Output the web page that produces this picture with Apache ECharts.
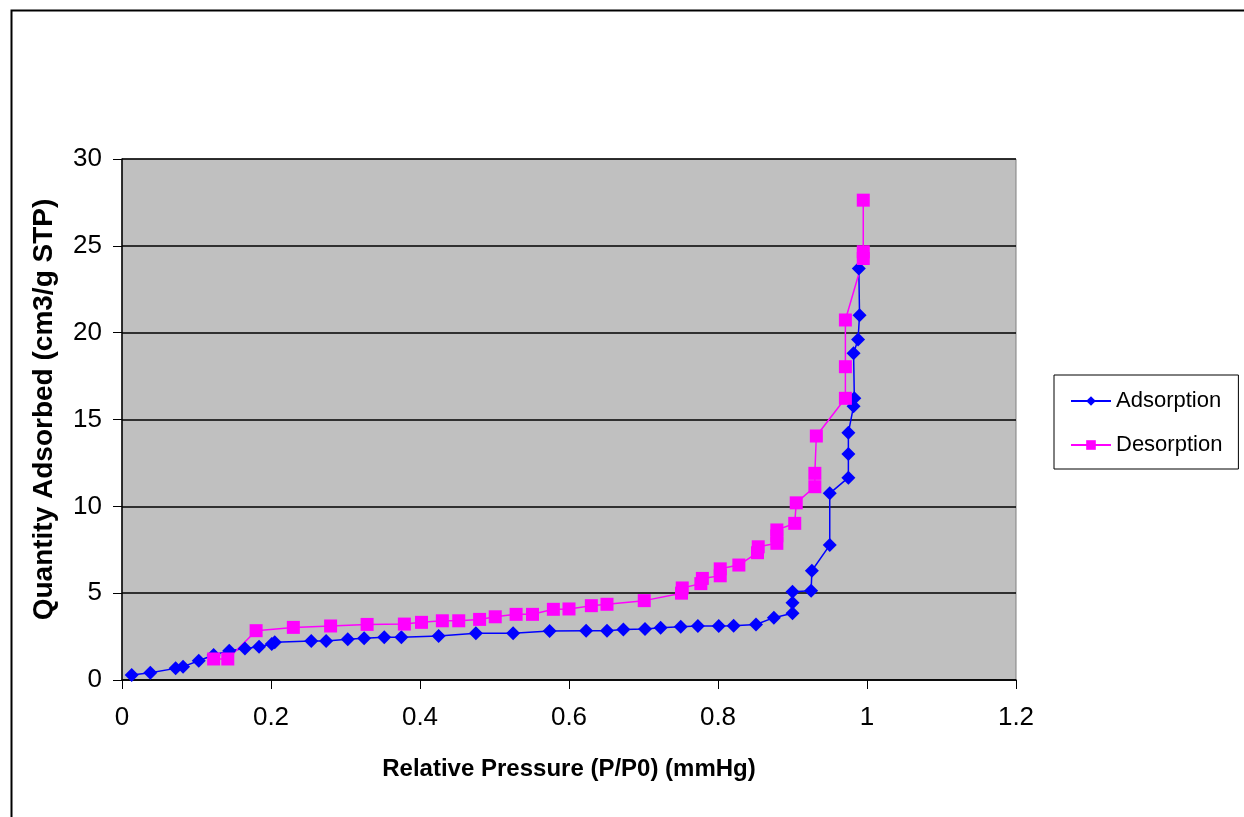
<!DOCTYPE html>
<html>
<head>
<meta charset="utf-8">
<title>Isotherm</title>
<script src="https://cdn.jsdelivr.net/npm/echarts@6/dist/echarts.min.js"></script>
<style>
  html, body { margin: 0; padding: 0; background: #fff; }
  #chart { width: 1244px; height: 817px; }
</style>
</head>
<body>
<div id="chart"></div>
<script>
// adsorption branch (relative pressure, quantity adsorbed)
const adsX = [0.013, 0.038, 0.072, 0.082, 0.103, 0.123, 0.144, 0.165, 0.184, 0.201, 0.205, 0.254, 0.274, 0.303, 0.325, 0.352,
    0.375, 0.425, 0.475, 0.525, 0.574, 0.623, 0.651, 0.673, 0.702, 0.723, 0.75, 0.773, 0.801, 0.821, 0.851, 0.875,
    0.9, 0.9, 0.9, 0.925, 0.926, 0.95, 0.95, 0.975, 0.975, 0.975, 0.982, 0.983, 0.982, 0.988, 0.99, 0.989]
const adsY = [0.29, 0.42, 0.67, 0.77, 1.11, 1.44, 1.69, 1.82, 1.92, 2.07, 2.17, 2.25, 2.25, 2.34, 2.40, 2.46,
    2.46, 2.53, 2.69, 2.69, 2.82, 2.84, 2.84, 2.91, 2.94, 3.01, 3.07, 3.11, 3.11, 3.13, 3.2, 3.59,
    3.84, 4.45, 5.08, 5.14, 6.29, 7.77, 10.75, 11.65, 13.01, 14.24, 15.77, 16.22, 18.81, 19.61, 21.01, 23.7]

// desorption branch, from high pressure down
const desX = [0.995, 0.995, 0.995, 0.971, 0.971, 0.971, 0.932, 0.930, 0.930, 0.905, 0.903, 0.879, 0.879, 0.879,
    0.854, 0.853, 0.828, 0.803, 0.803, 0.779, 0.777, 0.752, 0.751, 0.701, 0.651, 0.63, 0.6, 0.579, 0.551, 0.529,
    0.501, 0.48, 0.452, 0.43, 0.402, 0.379, 0.329, 0.28, 0.23, 0.18, 0.142, 0.123]
const desY = [27.63, 24.66, 24.27, 20.73, 18.04, 16.22, 14.05, 11.9, 11.13, 10.2, 9.02, 8.64, 8.3, 7.87,
    7.67, 7.33, 6.62, 6.4, 6.0, 5.85, 5.55, 5.3, 5.0, 4.57, 4.36, 4.28, 4.09, 4.07, 3.78, 3.78,
    3.64, 3.49, 3.41, 3.41, 3.32, 3.22, 3.2, 3.11, 3.03, 2.84, 1.21, 1.21]

const seriesNames = ['Adsorption', 'Desorption']
const colors = ['#0000ff', '#ff00ff']

const font = "'Liberation Sans', Arial, sans-serif"

function pairs(xs, ys) {
    return xs.map((x, i) => [x, ys[i]])
}

const chart = echarts.init(document.getElementById('chart'))
chart.setOption({
    animation: false,
    textStyle: { fontFamily: font, color: '#000' },
    graphic: [
        {
            type: 'rect',
            shape: { x: 11.5, y: 10.5, width: 1250, height: 830 },
            style: { fill: 'none', stroke: '#000', lineWidth: 2 },
            silent: true
        }
    ],
    grid: {
        left: 122, top: 159, width: 894, height: 521,
        show: true,
        backgroundColor: '#c0c0c0',
        borderColor: '#808080',
        borderWidth: 1
    },
    legend: {
        orient: 'vertical',
        left: 1054, top: 375,
        width: 182, height: 90,
        padding: [15, 16, 13, 16],
        itemGap: 22,
        itemWidth: 40, itemHeight: 12,
        borderColor: '#000', borderWidth: 1,
        backgroundColor: '#fff',
        textStyle: { fontFamily: font, fontSize: 22, color: '#000' },
        data: seriesNames
    },
    xAxis: {
        type: 'value',
        min: 0, max: 1.2, interval: 0.2,
        name: 'Relative Pressure (P/P0) (mmHg)',
        nameLocation: 'middle',
        nameGap: 77,
        nameTextStyle: { fontFamily: font, fontSize: 24, fontWeight: 'bold', color: '#000' },
        axisLine: { show: true, onZero: false, lineStyle: { color: '#000', width: 1.5 } },
        axisTick: { show: true, length: 9, lineStyle: { color: '#000' } },
        axisLabel: { fontSize: 26, color: '#000', margin: 25, fontFamily: font },
        splitLine: { show: false }
    },
    yAxis: {
        type: 'value',
        min: 0, max: 30, interval: 5,
        name: 'Quantity Adsorbed (cm3/g STP)',
        nameLocation: 'middle',
        nameGap: 64,
        nameTextStyle: { fontFamily: font, fontSize: 28, fontWeight: 'bold', color: '#000', padding: [0, 0, 0, 20] },
        axisLine: { show: true, lineStyle: { color: '#000', width: 1.5 } },
        axisTick: { show: true, length: 9, lineStyle: { color: '#000' } },
        axisLabel: { fontSize: 26, color: '#000', margin: 20, fontFamily: font },
        splitLine: { show: true, lineStyle: { color: '#000', width: 1.5 } }
    },
    series: [
        {
            name: seriesNames[0],
            type: 'line',
            data: pairs(adsX, adsY),
            symbol: 'diamond',
            symbolSize: 14,
            showAllSymbol: true,
            lineStyle: { color: colors[0], width: 1.5 },
            itemStyle: { color: colors[0] }
        },
        {
            name: seriesNames[1],
            type: 'line',
            data: pairs(desX, desY),
            symbol: 'rect',
            symbolSize: 13,
            showAllSymbol: true,
            lineStyle: { color: colors[1], width: 1.5 },
            itemStyle: { color: colors[1] }
        }
    ]
})
</script>
</body>
</html>
